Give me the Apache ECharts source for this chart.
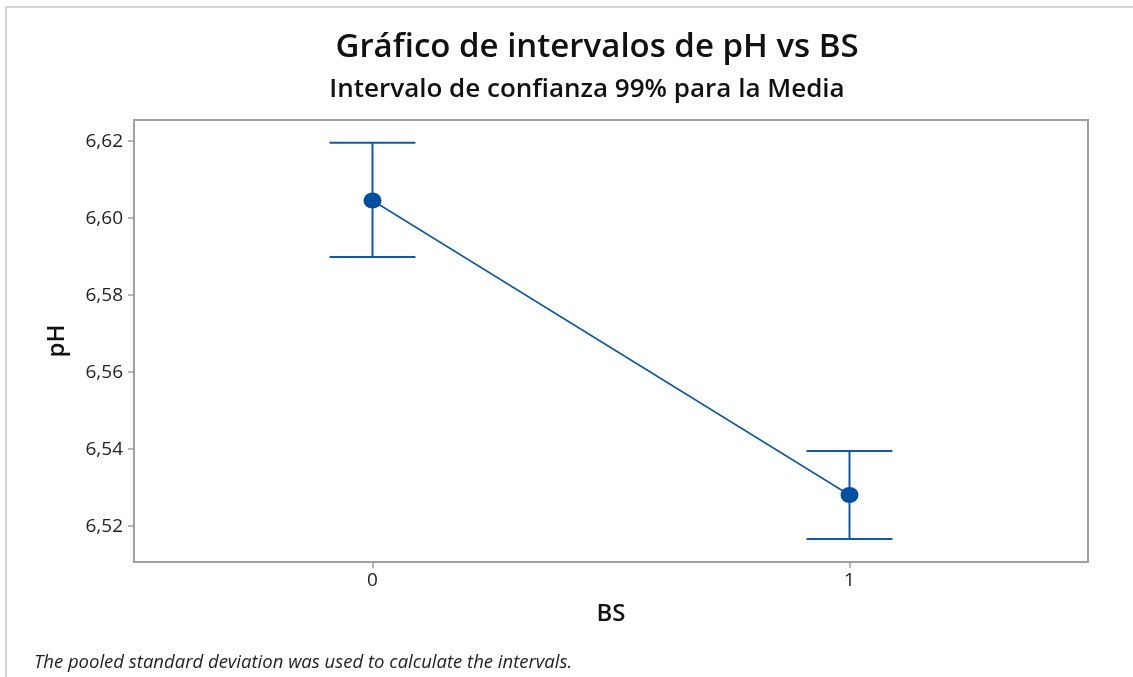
<!DOCTYPE html>
<html><head><meta charset="utf-8">
<script src="https://cdn.jsdelivr.net/npm/echarts@6/dist/echarts.min.js"></script>
<style>html,body{margin:0;padding:0;background:#fff}#c{width:1133px;height:677px}</style>
</head><body><div id="c"></div>
<script>
const categories = ['0', '1'];
const means = [6.6046, 6.5281];
const lower = [6.5899, 6.5167];
const upper = [6.6196, 6.5395];
const yTicks = [6.52, 6.54, 6.56, 6.58, 6.60, 6.62];
const titleText = 'Gráfico de intervalos de pH vs BS';
const subtitleText = 'Intervalo de confianza 99% para la Media';
const footnoteText = 'The pooled standard deviation was used to calculate the intervals.';

const FONT = '"Open Sans", "Noto Sans", sans-serif';
const BLUE = '#0f5aa8';
const chart = echarts.init(document.getElementById('c'), null, {renderer: 'canvas'});
const errData = categories.map((c, i) => [i, lower[i], upper[i]]);

chart.setOption({
  animation: false,
  backgroundColor: '#fff',
  title: [
    {text: titleText, left: 592, top: 26, textAlign: 'center',
     textStyle: {fontFamily: FONT, fontSize: 33, fontWeight: 600, color: '#111'}},
    {text: subtitleText, left: 582, top: 72, textAlign: 'center',
     textStyle: {fontFamily: FONT, fontSize: 26, fontWeight: 600, color: '#111'}},
    {text: footnoteText, left: 29, top: 648,
     textStyle: {fontFamily: FONT, fontSize: 18.5, fontWeight: 'normal', fontStyle: 'italic', color: '#222'}}
  ],
  graphic: [
    {type: 'line', shape: {x1: 6, y1: 7, x2: 6, y2: 677}, style: {stroke: '#d4d4d4', lineWidth: 2}},
    {type: 'line', shape: {x1: 5, y1: 7, x2: 1133, y2: 7}, style: {stroke: '#d4d4d4', lineWidth: 2}}
  ],
  grid: {left: 134, right: 45, top: 120, bottom: 115, show: true, borderColor: '#a0a0a0', borderWidth: 2, backgroundColor: 'transparent'},
  xAxis: {
    type: 'category', data: categories, boundaryGap: true,
    name: 'BS', nameLocation: 'middle', nameGap: 40,
    nameTextStyle: {fontFamily: FONT, fontSize: 24, fontWeight: 600, color: '#111'},
    axisLine: {show: false},
    axisTick: {show: true, alignWithLabel: true, length: 6, lineStyle: {color: '#a0a0a0', width: 1.5}},
    axisLabel: {fontFamily: FONT, fontSize: 19, color: '#222', margin: 9},
    splitLine: {show: false}
  },
  yAxis: {
    type: 'value', min: 6.5107, max: 6.6255,
    name: 'pH', nameLocation: 'middle', nameGap: 65, nameRotate: 90,
    nameTextStyle: {fontFamily: FONT, fontSize: 24, fontWeight: 600, color: '#111'},
    axisLine: {show: false},
    axisTick: {show: true, length: 6, customValues: yTicks, lineStyle: {color: '#a0a0a0', width: 1.5}},
    axisLabel: {fontFamily: FONT, fontSize: 19, color: '#222', margin: 11, customValues: yTicks,
      formatter: v => v.toFixed(2).replace('.', ',')},
    splitLine: {show: false}
  },
  series: [
    {
      type: 'custom', data: errData, z: 2,
      renderItem: function (params, api) {
        const x = api.value(0);
        const pLo = api.coord([x, api.value(1)]);
        const pHi = api.coord([x, api.value(2)]);
        const hw = api.size([1, 0])[0] * 0.09;
        const st = {stroke: BLUE, lineWidth: 2};
        return {type: 'group', children: [
          {type: 'line', shape: {x1: pLo[0], y1: pLo[1], x2: pHi[0], y2: pHi[1]}, style: st},
          {type: 'line', shape: {x1: pLo[0] - hw, y1: pLo[1], x2: pLo[0] + hw, y2: pLo[1]}, style: st},
          {type: 'line', shape: {x1: pHi[0] - hw, y1: pHi[1], x2: pHi[0] + hw, y2: pHi[1]}, style: st}
        ]};
      }
    },
    {
      type: 'line', data: means, z: 3,
      symbol: 'circle', symbolSize: [18, 16],
      lineStyle: {color: BLUE, width: 1.6},
      itemStyle: {color: '#0050a2', borderWidth: 0}
    }
  ]
});
</script>
</body></html>
